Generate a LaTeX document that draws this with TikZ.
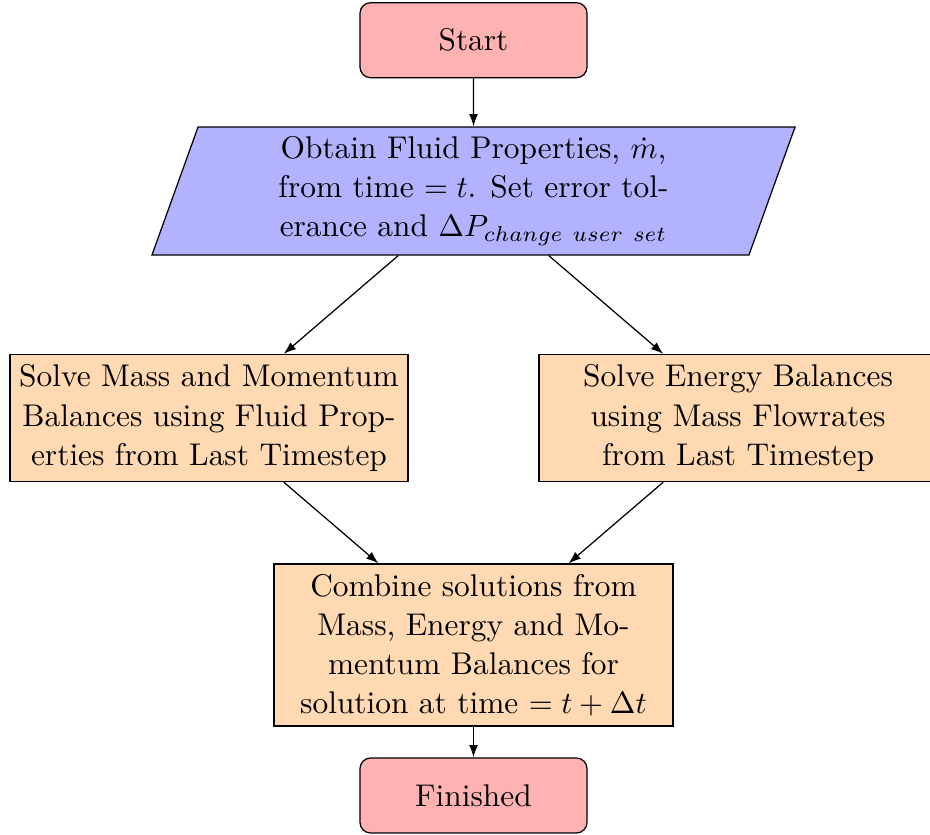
\documentclass[tikz,border=0pt]{standalone}
\usetikzlibrary{shapes.geometric,arrows.meta}
\begin{document}
\begin{tikzpicture}[x=0.325pt,y=-0.325pt,
  every node/.style={font=\fontsize{10.2}{12.7}\selectfont},
  terminal/.style={rectangle,rounded corners=3.5pt,draw=black,fill=red!30,
    minimum width=73.8pt,minimum height=24.4pt,inner sep=0pt},
  inputbox/.style={trapezium,trapezium left angle=69.2,trapezium right angle=110.8,
    trapezium stretches body=true,draw=black,fill=blue!30,
    minimum width=209pt,minimum height=41.6pt,align=center,inner sep=2pt},
  process/.style={rectangle,draw=black,fill=orange!30,
    minimum width=129.4pt,align=center,inner sep=2pt},
  flow/.style={-{Latex[length=4pt,width=2.9pt]},black}]
  \useasboundingbox (0,0) rectangle (930,835);

  \node[terminal] (start) at (473.5,40.2) {Start};
  \node[inputbox] (input) at (473.5,191)
    {Obtain Fluid Properties, $\dot{m}$,\\
     from time $= t$. Set error tol-\\
     erance and $\Delta P_{change\ user\ set}$};
  \node[process,minimum height=41.3pt] (massmom) at (209,418)
    {Solve Mass and Momentum\\
     Balances using Fluid Prop-\\
     erties from Last Timestep};
  \node[process,minimum height=41.3pt] (energy) at (738,418)
    {Solve Energy Balances\\
     using Mass Flowrates\\
     from Last Timestep};
  \node[process,minimum width=129.7pt,minimum height=52.65pt] (combine) at (473.5,645)
    {Combine solutions from\\
     Mass, Energy and Mo-\\
     mentum Balances for\\
     solution at time $= t + \Delta t$};
  \node[terminal] (finish) at (473.5,795.5) {Finished};

  \draw[flow] (start) -- (input);
  \draw[flow] (input) -- (massmom);
  \draw[flow] (input) -- (energy);
  \draw[flow] (massmom) -- (combine);
  \draw[flow] (energy) -- (combine);
  \draw[flow] (combine) -- (finish);
\end{tikzpicture}
\end{document}
